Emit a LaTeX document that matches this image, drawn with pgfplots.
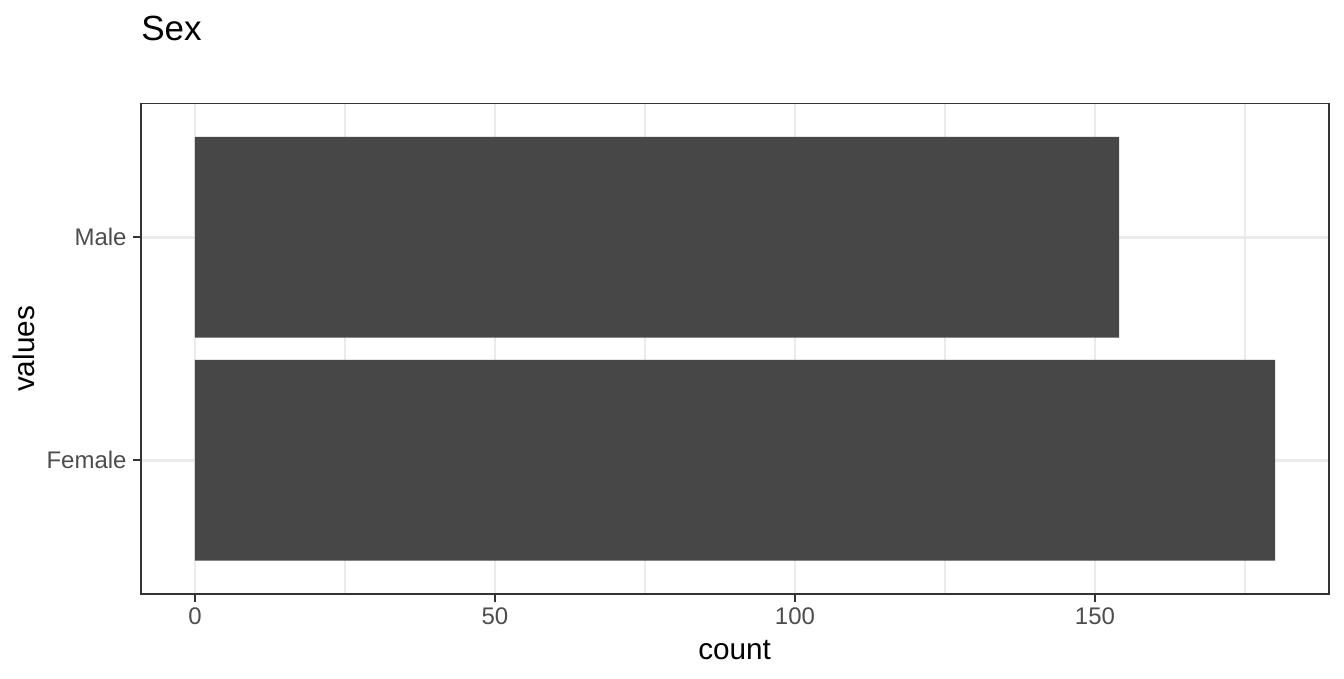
\documentclass[border=0pt]{standalone}
\usepackage{pgfplots}
\pgfplotsset{compat=1.18}
\usepackage{fontspec}
\setmainfont{Liberation Sans}
\definecolor{barfill}{HTML}{474747}
\definecolor{ticktext}{HTML}{4D4D4D}
\definecolor{grey20}{HTML}{333333}
\definecolor{grey92}{HTML}{EBEBEB}
\begin{document}
\begin{tikzpicture}
\path[use as bounding box] (-70.5pt,-42.5pt) rectangle (601.5pt,297pt);
\begin{axis}[
  at={(0pt,0pt)}, anchor=south west,
  scale only axis,
  width=594pt, height=245.25pt,
  xmin=-9, xmax=189,
  ymin=0.4, ymax=2.6,
  xtick={0,50,100,150},
  minor xtick={25,75,125,175},
  ytick={1,2},
  yticklabels={Female,Male},
  /pgf/number format/assume math mode=true,
  tick align=outside,
  major tick length=4pt,
  minor tick length=0pt,
  tick style={grey20, line width=1.1pt},
  xtick pos=bottom, ytick pos=left,
  grid=both,
  major grid style={grey92, line width=1.3pt},
  minor grid style={grey92, line width=0.65pt},
  axis line style={grey20, line width=0.9pt},
  x tick label style={font=\fontsize{12}{14}\selectfont, text=ticktext, anchor=base, inner sep=0pt, yshift=-11.5pt},
  y tick label style={font=\fontsize{12}{14}\selectfont, text=ticktext, anchor=east, inner sep=0pt, xshift=-3pt},
]
\addplot[xbar, bar width=0.9, fill=barfill, draw=none] coordinates {(180,1) (154,2)};
\end{axis}
\node[anchor=base west, inner sep=0pt, font=\fontsize{17.5}{20}\selectfont] at (0pt,276.6pt) {Sex};
\node[anchor=base, inner sep=0pt, font=\fontsize{14.85}{17}\selectfont] at (296.8pt,-32.6pt) {count};
\node[anchor=base, rotate=90, inner sep=0pt, font=\fontsize{14.85}{17}\selectfont] at (-53pt,122.5pt) {values};
\end{tikzpicture}
\end{document}
